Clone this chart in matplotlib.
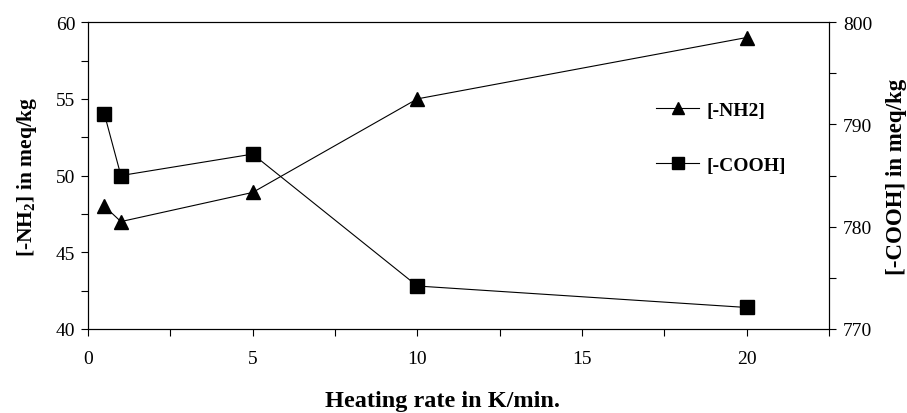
import numpy as np
import matplotlib.pyplot as plt
from matplotlib.ticker import MultipleLocator

plt.rcParams['font.family'] = ['Liberation Serif', 'DejaVu Serif']
plt.rcParams['mathtext.fontset'] = 'custom'
plt.rcParams['mathtext.rm'] = 'Liberation Serif'
plt.rcParams['mathtext.bf'] = 'Liberation Serif:bold'
plt.rcParams['mathtext.default'] = 'bf'

# heating rate (K/min) and end group concentrations
rates = [0.5, 1, 5, 10, 20]
nh2 = [48.0, 47.0, 48.9, 55.0, 59.0]
cooh = [791.0, 785.0, 787.1, 774.2, 772.1]

fig = plt.figure(figsize=(9.07, 4.14), dpi=100)
ax = fig.add_axes([0.097, 0.203, 0.817, 0.741])
ax2 = ax.twinx()

l1, = ax.plot(rates, nh2, color='black', lw=0.8, marker='^', ms=10.5, label='[-NH2]')
l2, = ax2.plot(rates, cooh, color='black', lw=0.8, marker='s', ms=10.5, label='[-COOH]')

ax.set_xlim(0, 22.5)
ax.set_ylim(40, 60)
ax2.set_ylim(770, 800)
ax.set_xticks([0, 5, 10, 15, 20])
ax.xaxis.set_minor_locator(MultipleLocator(2.5))
ax.yaxis.set_major_locator(MultipleLocator(5))
ax.yaxis.set_minor_locator(MultipleLocator(2.5))
ax2.yaxis.set_major_locator(MultipleLocator(10))
ax2.yaxis.set_minor_locator(MultipleLocator(5))

for a in (ax, ax2):
    a.tick_params(which='both', direction='out', labelsize=14, width=0.8, length=5)
    for s in a.spines.values():
        s.set_linewidth(0.8)
ax.tick_params(axis='x', pad=10)
ax.tick_params(axis='y', pad=4)
ax2.tick_params(axis='y', pad=5)

ax.set_xlabel('Heating rate in K/min.', fontsize=17.5, fontweight='bold')
ax.xaxis.set_label_coords(0.478, -0.2)
ax.set_ylabel('[-NH$_2$] in meq/kg', fontsize=15.5, fontweight='bold', labelpad=12)
ax2.set_ylabel('[-COOH] in meq/kg', fontsize=16.5, fontweight='bold', labelpad=10)

leg_handles = [plt.Line2D([], [], color='black', lw=0.8, marker='^', ms=9),
               plt.Line2D([], [], color='black', lw=0.8, marker='s', ms=9)]
ax2.legend(leg_handles, [l1.get_label(), l2.get_label()], loc='center left',
           bbox_to_anchor=(0.754, 0.624), frameon=False, borderpad=0,
           prop={'weight': 'bold', 'size': 14}, handlelength=2.2,
           labelspacing=1.9, handletextpad=0.35)

fig.savefig('out.png', dpi=100)
